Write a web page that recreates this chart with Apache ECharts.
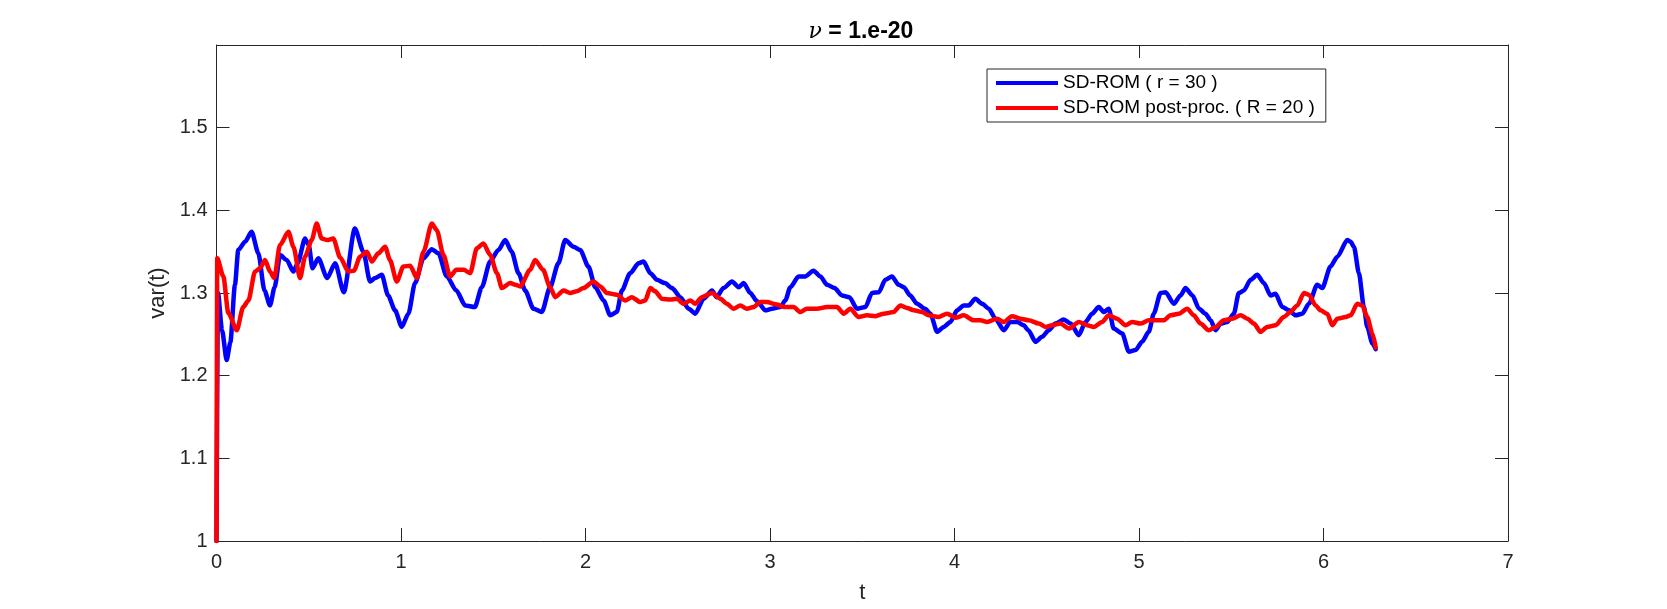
<!DOCTYPE html>
<html>
<head>
<meta charset="utf-8">
<script src="https://cdn.jsdelivr.net/npm/echarts@6/dist/echarts.min.js"></script>
<style>html,body{margin:0;padding:0;background:#fff;}#c{width:1667px;height:609px;}</style>
</head>
<body>
<div id="c"></div>
<script>
const seriesNames = ['SD-ROM ( r = 30 )', 'SD-ROM post-proc. ( R = 20 )'];
const xTicks = [0, 1, 2, 3, 4, 5, 6, 7];
const yTicks = [1, 1.1, 1.2, 1.3, 1.4, 1.5];

const tBlue = [0,0.008,0.03,0.055,0.075,0.1,0.118,0.155,0.19,0.227,0.26,0.29,0.315,0.345,0.38,0.417,0.44,0.48,0.50,0.52,0.552,0.6,0.643,0.69,0.75,0.796,0.832,0.86,0.896,0.93,0.968,1.004,1.04,1.076,1.122,1.167,1.203,1.248,1.3,1.348,1.40,1.438,1.483,1.528,1.565,1.6,1.637,1.673,1.718,1.763,1.808,1.853,1.89,1.935,1.971,2.016,2.053,2.098,2.134,2.17,2.197,2.242,2.288,2.315,2.351,2.387,2.43,2.469,2.514,2.559,2.595,2.64,2.686,2.71,2.748,2.794,2.83,2.857,2.893,2.93,2.975,3.01,3.056,3.083,3.11,3.155,3.19,3.236,3.273,3.309,3.35,3.39,3.43,3.472,3.517,3.553,3.59,3.625,3.661,3.697,3.725,3.76,3.797,3.84,3.869,3.906,3.942,3.978,4.014,4.05,4.077,4.113,4.15,4.186,4.222,4.267,4.303,4.34,4.375,4.40,4.439,4.475,4.511,4.547,4.592,4.63,4.674,4.71,4.746,4.782,4.81,4.836,4.863,4.909,4.945,4.981,5.017,5.053,5.08,5.117,5.144,5.189,5.225,5.252,5.29,5.325,5.36,5.388,5.415,5.442,5.478,5.514,5.541,5.568,5.605,5.641,5.677,5.713,5.74,5.777,5.813,5.849,5.885,5.921,5.966,5.993,6.038,6.075,6.129,6.147,6.165,6.192,6.219,6.237,6.265,6.283];
const vBlue = [1.0,1.30,1.255,1.219,1.24,1.31,1.352,1.362,1.374,1.348,1.303,1.285,1.307,1.346,1.340,1.326,1.336,1.366,1.358,1.330,1.342,1.318,1.336,1.301,1.378,1.350,1.314,1.318,1.322,1.297,1.279,1.259,1.275,1.312,1.342,1.353,1.348,1.320,1.303,1.285,1.283,1.307,1.338,1.352,1.364,1.350,1.324,1.303,1.281,1.277,1.307,1.336,1.364,1.356,1.352,1.332,1.307,1.291,1.273,1.277,1.303,1.324,1.336,1.338,1.324,1.316,1.312,1.306,1.295,1.281,1.275,1.293,1.303,1.295,1.306,1.314,1.307,1.312,1.300,1.290,1.279,1.281,1.283,1.291,1.307,1.320,1.320,1.327,1.320,1.310,1.306,1.297,1.295,1.281,1.283,1.300,1.301,1.316,1.320,1.310,1.307,1.297,1.287,1.281,1.275,1.253,1.259,1.265,1.279,1.285,1.285,1.293,1.287,1.281,1.269,1.255,1.265,1.265,1.261,1.255,1.241,1.247,1.255,1.263,1.268,1.263,1.249,1.265,1.275,1.283,1.277,1.281,1.257,1.251,1.229,1.231,1.241,1.253,1.275,1.300,1.301,1.287,1.297,1.306,1.297,1.281,1.275,1.267,1.255,1.263,1.265,1.275,1.300,1.303,1.316,1.322,1.312,1.297,1.299,1.283,1.279,1.273,1.275,1.287,1.310,1.306,1.332,1.344,1.364,1.362,1.356,1.324,1.283,1.259,1.239,1.232];

const tRed = [0,0.004,0.037,0.064,0.11,0.145,0.173,0.209,0.236,0.263,0.29,0.313,0.344,0.39,0.417,0.453,0.48,0.516,0.543,0.57,0.6,0.633,0.67,0.715,0.745,0.778,0.815,0.842,0.877,0.914,0.94,0.977,1.013,1.05,1.086,1.122,1.167,1.194,1.23,1.266,1.3,1.34,1.375,1.411,1.447,1.483,1.52,1.547,1.592,1.62,1.646,1.70,1.727,1.77,1.808,1.836,1.881,1.917,1.953,1.989,2.043,2.080,2.116,2.170,2.215,2.251,2.297,2.324,2.351,2.378,2.414,2.459,2.495,2.532,2.568,2.595,2.631,2.686,2.731,2.766,2.802,2.839,2.875,2.911,2.947,2.983,3.038,3.074,3.128,3.164,3.2,3.255,3.309,3.363,3.4,3.435,3.48,3.526,3.571,3.616,3.67,3.707,3.743,3.779,3.824,3.860,3.914,3.960,4.005,4.050,4.104,4.14,4.177,4.231,4.267,4.312,4.357,4.402,4.457,4.493,4.529,4.574,4.620,4.674,4.719,4.755,4.800,4.836,4.881,4.927,4.963,5.008,5.053,5.098,5.134,5.171,5.216,5.261,5.297,5.333,5.378,5.415,5.460,5.505,5.551,5.587,5.623,5.659,5.695,5.740,5.785,5.821,5.858,5.894,5.921,5.957,5.984,6.02,6.048,6.075,6.12,6.147,6.183,6.21,6.237,6.265,6.283];
const vRed = [1.0,1.342,1.320,1.276,1.255,1.283,1.291,1.326,1.330,1.340,1.326,1.318,1.358,1.374,1.356,1.318,1.344,1.364,1.384,1.366,1.364,1.366,1.343,1.326,1.327,1.344,1.350,1.338,1.348,1.356,1.340,1.314,1.332,1.333,1.318,1.350,1.384,1.376,1.346,1.320,1.328,1.328,1.324,1.354,1.360,1.346,1.324,1.306,1.312,1.310,1.308,1.328,1.340,1.328,1.307,1.295,1.303,1.300,1.302,1.306,1.314,1.308,1.300,1.298,1.291,1.295,1.289,1.291,1.306,1.302,1.293,1.292,1.293,1.287,1.291,1.287,1.295,1.300,1.293,1.287,1.281,1.285,1.281,1.283,1.289,1.289,1.286,1.283,1.283,1.277,1.281,1.281,1.283,1.283,1.275,1.281,1.271,1.273,1.272,1.275,1.277,1.285,1.282,1.279,1.277,1.273,1.271,1.275,1.270,1.273,1.267,1.267,1.265,1.269,1.265,1.272,1.269,1.267,1.263,1.259,1.261,1.263,1.257,1.265,1.261,1.259,1.265,1.273,1.269,1.261,1.265,1.263,1.267,1.267,1.267,1.273,1.275,1.281,1.273,1.263,1.255,1.259,1.267,1.269,1.273,1.269,1.263,1.253,1.259,1.261,1.271,1.277,1.285,1.300,1.298,1.285,1.279,1.275,1.261,1.269,1.271,1.273,1.287,1.285,1.271,1.251,1.234];

const zip = (a, b) => a.map((t, i) => [t, b[i]]);
const FONT = '"Liberation Sans", Arial, Helvetica, sans-serif';
const AX = '#262626';

const chart = echarts.init(document.getElementById('c'), null, {renderer: 'canvas'});

const commonX = {
  type: 'value', min: xTicks[0], max: xTicks[xTicks.length - 1], interval: 1,
  splitLine: {show: false},
  axisLine: {show: true, onZero: false, lineStyle: {color: AX, width: 1}},
  axisTick: {show: true, inside: true, length: 13, lineStyle: {color: AX, width: 1}}
};
const commonY = {
  type: 'value', min: 1, max: 1.6, interval: 0.1,
  splitLine: {show: false},
  axisLine: {show: true, onZero: false, lineStyle: {color: AX, width: 1}},
  axisTick: {show: true, inside: true, length: 13, lineStyle: {color: AX, width: 1}}
};

chart.setOption({
  animation: false,
  backgroundColor: '#ffffff',
  grid: {left: 216.5, right: 159, top: 45, bottom: 68, containLabel: false},
  graphic: [{
    type: 'text', x: 861, y: 32,
    style: {
      text: '{nu|ν}{b| = 1.e-20}',
      textAlign: 'center', textVerticalAlign: 'middle',
      rich: {
        nu: {fontFamily: '"DejaVu Serif", "Liberation Serif", serif', fontStyle: 'italic', fontSize: 22, fill: '#000'},
        b: {fontFamily: FONT, fontWeight: 'bold', fontSize: 23, fill: '#000'}
      }
    }
  }],
  legend: {
    show: true,
    orient: 'vertical',
    left: 987, top: 69,
    data: seriesNames,
    icon: 'rect',
    itemWidth: 62, itemHeight: 4,
    itemGap: 5,
    padding: [4, 11, 4, 9],
    borderColor: AX, borderWidth: 1,
    backgroundColor: '#fff',
    textStyle: {fontFamily: FONT, fontSize: 19, color: '#000', lineHeight: 20}
  },
  xAxis: [
    Object.assign({}, commonX, {
      position: 'bottom',
      name: 't', nameLocation: 'middle', nameGap: 41,
      nameTextStyle: {fontFamily: FONT, fontSize: 22, color: '#262626'},
      axisLabel: {show: true, margin: 11, fontFamily: FONT, fontSize: 20, color: '#262626',
        formatter: v => String(Math.round(v))}
    }),
    Object.assign({}, commonX, {position: 'top', axisLabel: {show: false}})
  ],
  yAxis: [
    Object.assign({}, commonY, {
      position: 'left',
      name: 'var(t)', nameLocation: 'middle', nameGap: 46, nameRotate: 90,
      nameTextStyle: {fontFamily: FONT, fontSize: 22, color: '#262626'},
      axisLabel: {show: true, margin: 9, fontFamily: FONT, fontSize: 20, color: '#262626',
        formatter: v => { const r = Math.round(v * 10) / 10; return yTicks.indexOf(r) >= 0 ? String(r) : ''; }}
    }),
    Object.assign({}, commonY, {position: 'right', axisLabel: {show: false}})
  ],
  series: [
    {
      name: seriesNames[0], type: 'line', xAxisIndex: 0, yAxisIndex: 0,
      data: zip(tBlue, vBlue), showSymbol: false, symbol: 'none',
      smooth: 0.25, smoothMonotone: 'x',
      lineStyle: {color: '#0000ff', width: 4.5, cap: 'round', join: 'round'},
      itemStyle: {color: '#0000ff'}
    },
    {
      name: seriesNames[1], type: 'line', xAxisIndex: 0, yAxisIndex: 0,
      data: zip(tRed, vRed), showSymbol: false, symbol: 'none',
      smooth: 0.25, smoothMonotone: 'x',
      lineStyle: {color: '#ff0000', width: 4.5, cap: 'round', join: 'round'},
      itemStyle: {color: '#ff0000'}
    }
  ]
});
</script>
</body>
</html>
